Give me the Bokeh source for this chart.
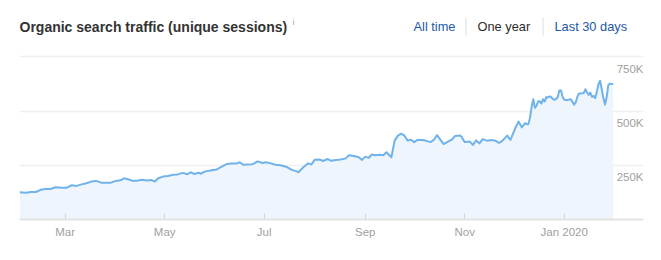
import pandas as pd
from datetime import datetime
from bokeh.plotting import figure
from bokeh.models import FixedTicker, Range1d, Grid, ColumnDataSource
from bokeh.core.properties import value
from bokeh.embed import file_html
from bokeh.resources import INLINE

# ---- data ----
dates = [
    "2019-02-01", "2019-02-05", "2019-02-08", "2019-02-11", "2019-02-14", "2019-02-17", "2019-02-20",
    "2019-02-23", "2019-02-27", "2019-03-02", "2019-03-05", "2019-03-08", "2019-03-11", "2019-03-14",
    "2019-03-17", "2019-03-20", "2019-03-23", "2019-03-26", "2019-03-29", "2019-04-01", "2019-04-04",
    "2019-04-06", "2019-04-09", "2019-04-11", "2019-04-14", "2019-04-17", "2019-04-20", "2019-04-23",
    "2019-04-25", "2019-04-27", "2019-04-30", "2019-05-03", "2019-05-06", "2019-05-09", "2019-05-12",
    "2019-05-15", "2019-05-17", "2019-05-19", "2019-05-22", "2019-05-23", "2019-05-26", "2019-05-30",
    "2019-06-02", "2019-06-05", "2019-06-08", "2019-06-11", "2019-06-14", "2019-06-16", "2019-06-18",
    "2019-06-21", "2019-06-24", "2019-06-27", "2019-06-30", "2019-07-02", "2019-07-05", "2019-07-08",
    "2019-07-11", "2019-07-15", "2019-07-18", "2019-07-21", "2019-07-22", "2019-07-25", "2019-07-28",
    "2019-07-30", "2019-08-01", "2019-08-04", "2019-08-06", "2019-08-09", "2019-08-11", "2019-08-14",
    "2019-08-17", "2019-08-20", "2019-08-22", "2019-08-25", "2019-08-28", "2019-08-30", "2019-09-01",
    "2019-09-03", "2019-09-05", "2019-09-07", "2019-09-10", "2019-09-12", "2019-09-14", "2019-09-17",
    "2019-09-19", "2019-09-21", "2019-09-23", "2019-09-25", "2019-09-27", "2019-09-29", "2019-10-01",
    "2019-10-03", "2019-10-06", "2019-10-08", "2019-10-11", "2019-10-13", "2019-10-15", "2019-10-18",
    "2019-10-19", "2019-10-22", "2019-10-24", "2019-10-26", "2019-10-29", "2019-10-30", "2019-11-01",
    "2019-11-04", "2019-11-06", "2019-11-08", "2019-11-10", "2019-11-12", "2019-11-15", "2019-11-17",
    "2019-11-20", "2019-11-22", "2019-11-24", "2019-11-27", "2019-11-29", "2019-12-02", "2019-12-04",
    "2019-12-06", "2019-12-08", "2019-12-09", "2019-12-10", "2019-12-11", "2019-12-12", "2019-12-13",
    "2019-12-14", "2019-12-15", "2019-12-16", "2019-12-17", "2019-12-18", "2019-12-19", "2019-12-20",
    "2019-12-21", "2019-12-22", "2019-12-23", "2019-12-24", "2019-12-25", "2019-12-26", "2019-12-27",
    "2019-12-28", "2019-12-29", "2019-12-30", "2019-12-31", "2020-01-01", "2020-01-02", "2020-01-03",
    "2020-01-04", "2020-01-05", "2020-01-06", "2020-01-07", "2020-01-08", "2020-01-09", "2020-01-10",
    "2020-01-11", "2020-01-12", "2020-01-13", "2020-01-14", "2020-01-15", "2020-01-16", "2020-01-17",
    "2020-01-18", "2020-01-19", "2020-01-20", "2020-01-21", "2020-01-22", "2020-01-23", "2020-01-24",
    "2020-01-25", "2020-01-26", "2020-01-27", "2020-01-28", "2020-01-29", "2020-01-30", "2020-01-31",
]
sessions_k = [
    126, 123, 127, 127, 137, 141, 141,
    149, 146, 147, 158, 155, 162, 167,
    175, 178, 170, 169, 170, 178, 181,
    190, 185, 179, 179, 183, 180, 182,
    175, 190, 198, 201, 206, 208, 215,
    209, 218, 210, 216, 211, 222, 227,
    231, 244, 256, 258, 258, 264, 253,
    254, 255, 268, 261, 264, 259, 253,
    250, 242, 229, 222, 218, 241, 259,
    254, 276, 277, 270, 279, 271, 275,
    277, 282, 296, 293, 287, 275, 290,
    284, 300, 296, 299, 296, 310, 287,
    364, 387, 396, 387, 364, 368, 357,
    367, 367, 364, 357, 367, 389, 358,
    348, 360, 368, 385, 388, 382, 357,
    360, 344, 365, 351, 371, 363, 367,
    363, 353, 363, 387, 367, 422, 452,
    425, 445, 440, 440, 470, 520, 555,
    515, 525, 545, 545, 535, 555, 545,
    565, 563, 568, 565, 556, 552, 556,
    565, 595, 595, 565, 553, 551, 551,
    553, 555, 543, 530, 540, 565, 581,
    581, 582, 584, 601, 586, 575, 586,
    565, 570, 560, 590, 625, 640, 600,
    560, 530, 565, 620, 627, 625, 625,
]
x_tick_dates = ["2019-03-01", "2019-05-01", "2019-07-01", "2019-09-01", "2019-11-01", "2020-01-01"]
x_tick_labels = ["Mar", "May", "Jul", "Sep", "Nov", "Jan 2020"]
y_ticks = [250000, 500000, 750000]
y_tick_labels = ["250K", "500K", "750K"]
title_text = "Organic search traffic (unique sessions)"
period_options = ["All time", "One year", "Last 30 days"]

# ---- build ----
x = pd.to_datetime(dates)
y = [v * 1000 for v in sessions_k]
src = ColumnDataSource(dict(x=x, y=y, zero=[0] * len(y)))

W, H = 661, 260
frame_left, frame_right, frame_bottom = 19, 643, 219
chart_top = 56                      # canvas y of the 750K grid line
y_top_val = 752000
# the frame reaches the top of the canvas so the header can sit inside it
y_end = y_top_val * frame_bottom / (frame_bottom - chart_top)

x_start = datetime(2019, 2, 1)
x_end = datetime(2020, 2, 18, 14)

p = figure(width=W, height=H, x_axis_type="datetime", y_axis_location=None,
           x_range=Range1d(x_start, x_end), y_range=Range1d(0, y_end),
           toolbar_location=None, output_backend="svg",
           min_border_left=frame_left, min_border_right=W - frame_right,
           min_border_top=0, min_border_bottom=H - frame_bottom)
p.title.visible = False
p.outline_line_color = None
p.background_fill_color = "white"
p.border_fill_color = "white"
p.xgrid.visible = False
p.ygrid.visible = False

# pixel-like ranges for the header (x: canvas px, y: canvas px from top)
p.extra_x_ranges = {"px": Range1d(frame_left, frame_right)}
p.extra_y_ranges = {"px": Range1d(frame_bottom, 0)}

grid = Grid(dimension=1, ticker=FixedTicker(ticks=y_ticks),
            grid_line_color="#efefef", grid_line_width=1.5)
p.add_layout(grid)

p.varea(x="x", y1="zero", y2="y", source=src, fill_color="#eff5fd")
p.line(x="x", y="y", source=src, line_color="#70b3ea", line_width=2, line_join="round")

# y tick labels inside the plot, under each grid line, right-aligned
p.text(x=[x_end] * len(y_ticks), y=y_ticks, text=y_tick_labels,
       text_align="right", text_baseline="top", y_offset=6,
       text_font=value("Liberation Sans"), text_font_size="11.5px", text_color="#a0a0a0")

xt = [pd.Timestamp(d).timestamp() * 1000 for d in x_tick_dates]
ax = p.xaxis[0]
ax.ticker = FixedTicker(ticks=xt)
ax.major_label_overrides = {t: lab for t, lab in zip(xt, x_tick_labels)}
ax.axis_line_color = "#e3e3e3"
ax.axis_line_width = 2
ax.major_tick_in = 6
ax.major_tick_out = 0
ax.major_tick_line_color = "#d6d6d6"
ax.minor_tick_line_color = None
ax.major_label_standoff = 6
ax.major_label_text_font = "Liberation Sans"
ax.major_label_text_font_size = "11.5px"
ax.major_label_text_color = "#a0a0a0"

# header
p.text(x=[19], y=[26], text=[title_text], x_range_name="px", y_range_name="px",
       text_font=value("Liberation Sans"), text_font_size="14px", text_font_style="bold",
       text_color="#333333", text_baseline="middle")
p.text(x=[292], y=[21], text=["i"], x_range_name="px", y_range_name="px",
       text_font=value("Liberation Sans"), text_font_size="9px",
       text_color="#aaaaaa", text_baseline="middle")
p.text(x=[413, 477, 554], y=[26] * 3, text=period_options, x_range_name="px", y_range_name="px",
       text_font=value("Liberation Sans"), text_font_size="12.8px",
       text_color=["#2257a8", "#2b2b2b", "#2257a8"], text_baseline="middle")
p.segment(x0=[465.5, 542.5], x1=[465.5, 542.5], y0=[17, 17], y1=[35, 35],
          x_range_name="px", y_range_name="px", line_color="#dddddd", line_width=1)

open("out.html", "w").write(file_html(p, INLINE))
